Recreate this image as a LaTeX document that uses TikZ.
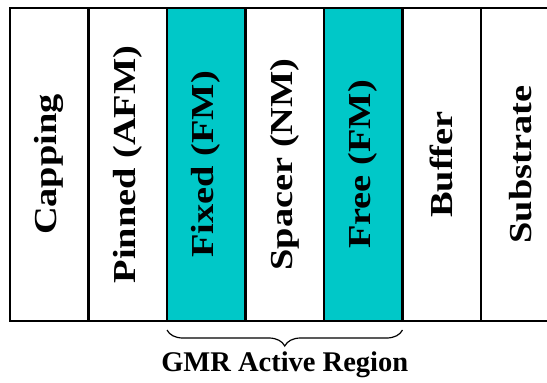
\documentclass[tikz,border=0pt]{standalone}
\usepackage{fontspec}
\setmainfont{Liberation Serif}
\usetikzlibrary{positioning,decorations.pathreplacing}

\definecolor{fmcyan}{RGB}{0,200,200}
\newcommand{\layertext}[1]{\rotatebox{90}{\scalebox{1.2}[1]{\fontsize{32}{36}\selectfont\bfseries #1}}}

\tikzset{
	layer/.style = {draw, line width=2.5pt, outer sep=0pt, inner sep=0pt,
		minimum width=78.5pt, minimum height=313pt},
	ferro/.style = {layer, fill=fmcyan},
	brace/.style = {decorate, decoration={brace, mirror, amplitude=16pt}, line width=1.2pt}
}

\begin{document}
\begin{tikzpicture}[x=1pt, y=-1pt]
	\clip (0,0) rectangle (547,383);

	\node[layer, anchor=north west] (capping) at (10,8) {\layertext{Capping}};
	\node[layer, right=0pt of capping] (pinned) {\layertext{Pinned (AFM)}};
	\node[ferro, right=0pt of pinned] (fixed) {\layertext{Fixed (FM)}};
	\node[layer, right=0pt of fixed] (spacer) {\layertext{Spacer (NM)}};
	\node[ferro, right=0pt of spacer] (free) {\layertext{Free (FM)}};
	\node[layer, right=0pt of free] (buffer) {\layertext{Buffer}};
	\node[layer, right=0pt of buffer] (substrate) {\layertext{Substrate}};

	\draw[brace] ([yshift=-9pt]fixed.south west) -- ([yshift=-9pt]free.south east)
		node[midway, below=21pt, inner sep=0pt] (gmr) {\fontsize{28.5}{32}\selectfont\bfseries GMR Active Region};

\end{tikzpicture}
\end{document}
